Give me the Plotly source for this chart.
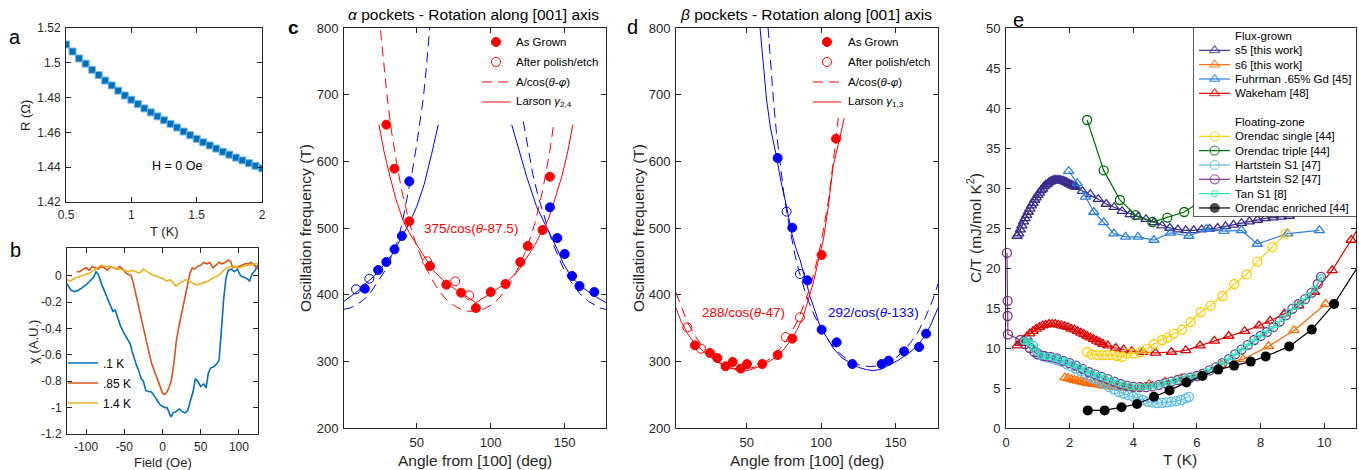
import plotly.graph_objects as go

W, H = 1359, 470
FONT = "Liberation Sans, Arial, Helvetica, sans-serif"
AX = "#262626"
RED, BLUE = "#FF0000", "#0000FF"

# ======================= DATA =======================
# ---- panel a : R(T)
a_T = [0.50, 0.55, 0.60, 0.65, 0.70, 0.75, 0.80, 0.85, 0.90, 0.95, 1.00, 1.05, 1.10, 1.15, 1.20, 1.25,
       1.30, 1.35, 1.40, 1.45, 1.50, 1.55, 1.60, 1.65, 1.70, 1.75, 1.80, 1.85, 1.90, 1.95, 2.00]
a_R = [1.5105, 1.5065, 1.5025, 1.4995, 1.4960, 1.4930, 1.4898, 1.4870, 1.4840, 1.4812, 1.4788, 1.4763,
       1.4738, 1.4715, 1.4692, 1.4670, 1.4649, 1.4628, 1.4605, 1.4584, 1.4563, 1.4543, 1.4525, 1.4507,
       1.4489, 1.4472, 1.4455, 1.4439, 1.4423, 1.4408, 1.4393]
a_note = "H = 0 Oe"
a_xticks = [0.5, 1, 1.5, 2]
a_xtext = ["0.5", "1", "1.5", "2"]
a_yticks = [1.42, 1.44, 1.46, 1.48, 1.50, 1.52]
a_ytext = ["1.42", "1.44", "1.46", "1.48", "1.5", "1.52"]

# ---- panel b : chi(H)
b1_F = [-125, -120, -115, -110, -105, -100, -95, -90, -87, -84, -80, -75, -70, -65, -62, -58, -55, -50, -46,
        -42, -40, -37, -34, -31, -28, -25, -22, -18, -15, -12, -9, -6, -3, 0, 3, 6, 9, 11, 14, 18, 22, 26,
        30, 33, 36, 40, 43, 46, 50, 54, 57, 60, 63, 67, 71, 74, 77, 80, 83, 86, 90, 94, 98, 102, 106, 110,
        114, 117, 121, 125]
b1_X = [-0.06, -0.11, -0.12, -0.11, -0.09, -0.07, -0.04, -0.01, 0.03, 0.01, -0.06, -0.13, -0.20, -0.27,
        -0.26, -0.34, -0.38, -0.44, -0.48, -0.52, -0.57, -0.63, -0.68, -0.72, -0.78, -0.80, -0.87, -0.88,
        -0.88, -0.90, -0.93, -0.96, -0.98, -0.99, -1.00, -1.00, -1.04, -1.07, -1.04, -1.03, -1.01, -1.03,
        -1.04, -1.02, -0.96, -0.88, -0.78, -0.80, -0.84, -0.82, -0.85, -0.74, -0.70, -0.69, -0.67, -0.64,
        -0.42, -0.18, -0.02, 0.04, 0.05, 0.03, 0.05, 0.00, -0.01, -0.02, -0.04, 0.01, 0.04, 0.08]
b2_F = [-112, -108, -104, -100, -96, -92, -88, -84, -80, -76, -72, -68, -64, -60, -56, -52, -48, -44, -41,
        -38, -35, -32, -29, -26, -23, -20, -17, -14, -11, -8, -5, -2, 0, 3, 6, 9, 12, 15, 18, 21, 24, 27,
        30, 33, 36, 39, 42, 46, 50, 54, 58, 62, 66, 70, 74, 78, 82, 86, 89, 92, 96, 100, 104, 108, 112, 116,
        120, 125]
b2_X = [0.03, 0.03, 0.05, 0.06, 0.04, 0.07, 0.06, 0.05, 0.07, 0.06, 0.04, 0.07, 0.06, 0.05, 0.07, 0.05,
        0.02, 0.01, 0.00, -0.06, -0.14, -0.22, -0.28, -0.36, -0.44, -0.52, -0.60, -0.67, -0.72, -0.77,
        -0.82, -0.87, -0.89, -0.90, -0.88, -0.84, -0.78, -0.66, -0.50, -0.40, -0.32, -0.24, -0.16, -0.08,
        0.02, 0.06, 0.05, 0.07, 0.08, 0.10, 0.09, 0.10, 0.06, 0.08, 0.10, 0.09, 0.10, 0.12, 0.11, 0.06,
        0.07, 0.07, 0.08, 0.09, 0.09, 0.10, 0.08, 0.05]
b3_F = [-125, -120, -115, -110, -105, -100, -95, -90, -85, -80, -75, -70, -65, -60, -55, -50, -45, -40,
        -35, -30, -25, -20, -15, -10, -5, 0, 5, 10, 15, 18, 21, 25, 30, 35, 40, 45, 50, 55, 60, 65, 70, 75,
        80, 85, 90, 95, 100, 105, 110, 115, 120, 125]
b3_X = [-0.03, -0.04, -0.02, -0.01, 0.00, 0.01, 0.02, 0.04, 0.06, 0.08, 0.07, 0.07, 0.06, 0.05, 0.05,
        0.04, 0.03, 0.04, 0.03, 0.02, 0.05, 0.03, 0.01, 0.00, -0.01, -0.02, -0.04, -0.03, -0.06, -0.08,
        -0.06, -0.05, -0.03, -0.04, -0.06, -0.07, -0.06, -0.05, -0.04, -0.02, -0.01, 0.01, 0.04, 0.06,
        0.07, 0.07, 0.06, 0.07, 0.08, 0.08, 0.09, 0.09]
b_names = [".1 K", ".85 K", "1.4 K"]
b_xticks = [-100, -50, 0, 50, 100]
b_xtext = ["-100", "-50", "0", "50", "100"]
b_yticks = [-1.2, -1, -0.8, -0.6, -0.4, -0.2, 0]
b_ytext = ["-1.2", "-1", "-0.8", "-0.6", "-0.4", "-0.2", "0"]

# ---- panel c : alpha pockets
c_red_grown_ang = [29.5, 35, 45, 59, 70, 80, 90, 100, 110, 120, 125, 135, 140]
c_red_grown_f = [655, 589, 510, 443, 415, 403, 380, 404, 416, 449, 473, 497, 577]
c_red_etch_ang = [57, 76, 85.5]
c_red_etch_f = [450, 420, 399]
c_blue_grown_ang = [15, 24, 29.5, 35, 40, 45, 140, 145, 150, 155, 160, 170]
c_blue_grown_f = [409, 437, 449, 468, 488, 570, 531, 485, 461, 428, 413, 404]
c_blue_etch_ang = [9, 18]
c_blue_etch_f = [408, 424]
c_red_cos_ang = [24.5, 26, 28, 30, 33, 36, 40, 45, 50, 55, 60, 65, 70, 75, 80, 85, 87.5, 90, 95, 100, 105,
                 110, 115, 120, 125, 130, 135, 140, 142.5]
c_red_cos_f = [820, 786, 738, 698, 645, 603, 555, 508, 473, 446, 424, 406, 393, 384, 378, 375, 375, 375,
               378, 384, 393, 406, 424, 446, 473, 508, 555, 616, 655]
c_red_lar_ang = [24.5, 28, 32, 36, 41, 45, 50, 55, 61, 70, 80, 90, 100, 110, 119, 125, 130, 135, 139, 144,
                 148, 152, 155.5]
c_red_lar_f = [655, 614, 577, 543, 510, 493, 475, 457, 437, 417, 402, 388, 402, 417, 437, 457, 475, 497,
               513, 548, 577, 614, 655]
c_blue_cosL_ang = [0.9, 5, 9.5, 14, 18.5, 23, 28.6, 32, 36.5, 40, 44.6, 47, 50, 52, 54.5, 56.5, 58.8]
c_blue_cosL_f = [378, 380, 385, 392, 402, 417, 436, 452, 477, 505, 555, 585, 625, 655, 695, 740, 800]
c_blue_cosR_ang = [122, 125, 128.5, 132, 135.6, 139, 142, 146, 149, 154, 160, 166, 171, 174, 177.9]
c_blue_cosR_f = [660, 620, 580, 548, 520, 497, 477, 455, 440, 420, 402, 390, 383, 380, 378]
c_blue_larL_ang = [0.9, 5, 10, 14.4, 20, 25, 30, 34, 40, 45, 50, 55, 60, 64.6]
c_blue_larL_f = [390, 397, 405, 415, 425, 437, 450, 462, 487, 507, 532, 565, 610, 655]
c_blue_larR_ang = [114.2, 118, 124.3, 131, 136, 140, 145, 149, 155, 162.6, 170, 177.9]
c_blue_larR_f = [655, 625, 577, 532, 510, 490, 468, 447, 425, 410, 398, 388]
c_note = "375/cos(<i>θ</i>-87.5)"
c_title = "<i>α</i> pockets - Rotation along [001] axis"
c_lar_name = "Larson <i>γ</i><sub>2,4</sub>"

# ---- panel d : beta pockets
d_red_grown_ang = [15.3, 25.4, 30.3, 35.9, 40.6, 46, 50.2, 60.5, 70.8, 80.6, 100.3, 110]
d_red_grown_f = [324, 312.5, 305, 292.5, 299, 289, 296, 296, 309.5, 334, 459.5, 634]
d_red_etch_ang = [10.2, 19.4, 76.2, 85.8]
d_red_etch_f = [351, 319, 336.5, 366]
d_blue_grown_ang = [70.8, 80.6, 90.7, 100.3, 110.4, 120.9, 140.6, 145.3, 155.6, 165.7, 170.4]
d_blue_grown_f = [605, 500.5, 421.5, 347.5, 328.5, 296, 296, 301, 315, 321.5, 341.5]
d_blue_etch_ang = [76.8, 85.8]
d_blue_etch_f = [524.5, 431]
d_red_lar_ang = [2.6, 6, 10.2, 14, 18.7, 24, 29.9, 35, 41, 46, 51, 56, 61, 66, 70, 75, 80, 84, 88, 91, 94.7,
                 98, 101.5, 105, 108, 112, 115.5]
d_red_lar_f = [380, 360, 342.5, 330, 320, 309, 300, 293, 288.5, 286.5, 286.5, 290, 295, 301, 307.5, 318,
               332.5, 348, 367.5, 390, 417.5, 450, 482.5, 535, 592.5, 630, 665]
d_red_cos_ang = [2.6, 6, 10, 15, 20, 25, 30, 35, 40, 47, 55, 60, 65, 70, 75, 80, 85, 90, 95, 100, 105, 110,
                 111.5]
d_red_cos_f = [403, 382, 360, 340, 323, 311, 301, 294, 290, 288, 291, 296, 303, 313, 326, 343, 365, 394,
               430, 478, 543, 634, 665]
d_blue_lar_ang = [59, 61, 63.4, 66, 70, 73, 76.8, 80.2, 83, 85.8, 89, 92.5, 96, 99.2, 104, 108, 114, 119.4,
                  125, 130.5, 135, 140, 146.2, 152, 157.4, 163, 168.6, 173, 178.4]
d_blue_lar_f = [800, 745, 692, 650, 607.5, 570, 532, 492.5, 470, 452.5, 425, 397.5, 375, 352.5, 335, 320,
                305, 297.5, 291, 287.5, 286, 288, 295, 302, 310, 320, 335, 352, 380]
d_blue_cos_ang = [64.4, 66, 68, 70, 72.5, 75, 77.5, 80, 82.5, 85, 90, 95, 100, 105, 110, 115, 120, 126, 133,
                  140, 145, 150, 155, 160, 165, 170, 175, 178.4]
d_blue_cos_f = [800, 747, 691, 643, 593, 551, 516, 485, 459, 436, 399, 371, 348, 331, 317, 307, 300, 294,
                292, 294, 299, 305, 315, 328, 344, 366, 393, 416]
d_note_red = "288/cos(<i>θ</i>-47)"
d_note_blue = "292/cos(<i>θ</i>-133)"
d_title = "<i>β</i> pockets - Rotation along [001] axis"
d_lar_name = "Larson <i>γ</i><sub>1,3</sub>"

cd_legend_names = ["As Grown", "After polish/etch", "A/cos(<i>θ</i>-<i>φ</i>)"]
cd_xticks = [50, 100, 150]
cd_yticks = [200, 300, 400, 500, 600, 700, 800]

# ---- panel e : C/T vs T
s5_T = [0.35, 0.40, 0.45, 0.50, 0.55, 0.60, 0.65, 0.70, 0.75, 0.80, 0.85, 0.90, 0.95, 1.00, 1.05, 1.10,
        1.15, 1.20, 1.25, 1.30, 1.35, 1.40, 1.45, 1.50, 1.55, 1.60, 1.65, 1.70, 1.75, 1.80, 1.85, 1.90,
        1.95, 2.00, 2.05, 2.10, 2.15, 2.20, 2.40, 2.65, 2.90, 3.15, 3.40, 3.65, 3.90, 4.15, 4.40, 4.65,
        4.90, 5.15, 5.40, 5.65, 5.90, 6.15, 6.40, 6.65, 6.90, 7.15, 7.40, 7.65, 7.90, 8.15, 8.40, 8.65, 8.90]
s5_C = [24.0, 24.3, 24.8, 25.3, 25.8, 26.2, 26.6, 27.0, 27.4, 27.8, 28.1, 28.5, 28.8, 29.1, 29.4, 29.7,
        29.9, 30.2, 30.4, 30.5, 30.7, 30.8, 30.9, 31.0, 31.0, 31.0, 31.0, 31.0, 30.9, 30.9, 30.8, 30.7,
        30.6, 30.5, 30.4, 30.3, 30.2, 30.1, 29.6, 29.2, 28.6, 28.0, 27.6, 27.1, 26.7, 26.4, 26.1, 25.7,
        25.3, 25.0, 24.8, 24.7, 24.7, 24.8, 24.9, 25.0, 25.2, 25.4, 25.6, 25.8, 26.0, 26.2, 26.3, 26.4, 26.5]
s6_T = [1.85, 1.95, 2.05, 2.15, 2.25, 2.35, 2.45, 2.55, 2.65, 2.75, 2.85, 2.95, 3.05, 3.15, 3.25, 3.35,
        3.45, 3.55, 3.65, 3.75, 3.85, 3.95, 4.10, 4.25, 4.50, 5.00, 5.50, 6.10, 6.75, 7.45, 8.25, 9.05, 10.05]
s6_C = [6.3, 6.2, 6.1, 6.0, 5.9, 5.8, 5.7, 5.6, 5.55, 5.5, 5.45, 5.4, 5.3, 5.25, 5.2, 5.15, 5.1, 5.1,
        5.05, 5.0, 5.0, 5.0, 5.0, 5.1, 5.5, 5.8, 6.2, 6.7, 7.9, 8.6, 10.2, 12.2, 15.5]
fu_T = [1.97, 2.24, 2.50, 2.76, 3.07, 3.39, 3.76, 4.15, 4.65, 5.17, 5.75, 6.30, 6.85, 7.40, 7.90, 8.85, 9.85]
fu_C = [32.1, 30.6, 28.9, 27.0, 25.7, 24.3, 23.9, 23.9, 23.5, 24.4, 24.0, 24.9, 24.6, 24.7, 23.0, 24.3, 24.7]
wk_T = [0.35, 0.45, 0.55, 0.65, 0.75, 0.85, 0.95, 1.05, 1.15, 1.25, 1.35, 1.45, 1.55, 1.65, 1.75, 1.85,
        1.95, 2.05, 2.15, 2.25, 2.35, 2.45, 2.55, 2.65, 2.75, 2.85, 2.95, 3.05, 3.20, 3.45, 3.70, 3.95,
        4.30, 4.70, 5.20, 5.65, 6.10, 6.55, 7.00, 7.50, 7.95, 8.30, 8.75, 9.20, 9.70, 10.25, 10.85, 11.50]
wk_C = [10.3, 10.6, 11.0, 11.4, 11.8, 12.1, 12.4, 12.6, 12.8, 12.9, 13.0, 13.0, 13.0, 12.9, 12.8, 12.7,
        12.6, 12.4, 12.3, 12.1, 11.9, 11.7, 11.5, 11.3, 11.1, 10.9, 10.7, 10.5, 10.3, 10.0, 9.8, 9.6,
        9.5, 9.4, 9.5, 9.7, 10.3, 10.9, 11.5, 12.1, 12.8, 13.4, 14.3, 15.3, 17.0, 19.7, 23.5, 28.0]
os_T = [2.55, 2.70, 2.86, 3.02, 3.18, 3.34, 3.49, 3.65, 3.81, 4.02, 4.23, 4.44, 4.65, 4.91, 5.07, 5.28,
        5.54, 5.80, 6.12, 6.43, 6.80, 7.17, 7.56, 7.90, 8.37, 8.79]
os_C = [9.5, 9.2, 9.1, 9.1, 9.1, 9.1, 9.0, 8.9, 9.3, 9.3, 9.5, 9.9, 10.5, 11.0, 11.3, 11.8, 12.3, 13.25,
        14.5, 15.3, 16.5, 18.0, 19.2, 20.8, 22.6, 24.3]
ot_T = [2.55, 3.07, 3.58, 4.07, 4.60, 5.07, 5.60, 6.12]
ot_C = [38.5, 32.2, 28.5, 26.6, 25.75, 26.3, 27.0, 28.3]
hs1_T = [0.70, 0.85, 1.00, 1.15, 1.30, 1.45, 1.60, 1.75, 1.90, 2.05, 2.20, 2.35, 2.50, 2.65, 2.80, 2.95,
         3.10, 3.25, 3.40, 3.55, 3.70, 3.85, 4.00, 4.15, 4.30, 4.45, 4.60, 4.75, 4.90, 5.05, 5.20, 5.35,
         5.50, 5.65, 5.75]
hs1_C = [10.9, 10.3, 9.4, 9.0, 8.8, 8.7, 8.5, 8.3, 8.0, 7.7, 7.4, 7.1, 6.8, 6.4, 6.1, 5.8, 5.5, 5.1, 4.8,
         4.5, 4.3, 4.1, 3.9, 3.7, 3.5, 3.3, 3.2, 3.1, 3.15, 3.2, 3.3, 3.35, 3.5, 3.7, 3.9]
hs2_T = [0.03, 0.05, 0.05, 0.06, 0.45, 0.60, 0.75, 0.90, 1.0, 1.2, 1.4, 1.6, 1.8, 2.0, 2.2, 2.4, 2.6, 2.8,
         3.0, 3.2, 3.4, 3.6, 3.8, 4.0, 4.2, 4.4, 4.6, 4.8, 5.0, 5.2, 5.4, 5.6, 5.8, 6.0, 6.2, 6.4, 6.6,
         6.8, 7.0, 7.2, 7.4, 7.6, 7.8, 8.0, 8.2, 8.4, 8.6, 8.8, 9.0, 9.2, 9.4, 9.6, 9.8, 9.9]
hs2_C = [21.9, 15.9, 14.0, 11.7, 11.0, 10.5, 10.0, 9.5, 9.2, 9.0, 8.9, 8.7, 8.4, 8.1, 7.8, 7.4, 7.0, 6.7,
         6.4, 6.1, 5.8, 5.5, 5.3, 5.15, 5.1, 5.1, 5.2, 5.4, 5.6, 5.8, 6.0, 6.2, 6.3, 6.5, 6.8, 7.2, 7.6,
         8.1, 8.6, 9.2, 9.8, 10.4, 11.0, 11.5, 12.0, 12.6, 13.3, 14.1, 14.9, 15.5, 16.1, 16.9, 18.0, 18.9]
tan_T = [0.55, 0.65, 0.75, 0.85, 0.95, 1.1, 1.3, 1.5, 1.7, 1.9, 2.1, 2.3, 2.5, 2.7, 2.9, 3.1, 3.3, 3.5,
         3.7, 3.9, 4.1, 4.3, 4.5, 4.7, 4.9, 5.1, 5.3, 5.5, 5.7, 5.9, 6.1, 6.3, 6.5, 6.7, 6.9, 7.1, 7.3,
         7.5, 7.7, 7.9, 8.1, 8.3, 8.5, 8.7, 8.9, 9.1, 9.3, 9.5, 9.7, 9.9]
tan_C = [10.9, 10.8, 10.6, 10.1, 9.5, 9.05, 8.95, 8.8, 8.55, 8.25, 7.95, 7.6, 7.2, 6.85, 6.55, 6.25, 5.95,
         5.65, 5.4, 5.2, 5.1, 5.1, 5.15, 5.3, 5.5, 5.7, 5.9, 6.1, 6.25, 6.4, 6.65, 7.0, 7.4, 7.85, 8.35,
         8.9, 9.5, 10.1, 10.7, 11.25, 11.75, 12.3, 12.95, 13.7, 14.5, 15.2, 15.8, 16.5, 17.4, 18.8]
oe_T = [2.57, 3.10, 3.63, 4.12, 4.65, 5.14, 5.67, 6.17, 6.67, 7.17, 7.69, 8.16, 8.90, 9.61, 10.31, 11.50]
oe_C = [2.2, 2.2, 2.6, 3.0, 3.9, 4.7, 5.7, 6.5, 7.3, 7.8, 8.3, 8.95, 10.2, 12.3, 15.5, 22.9]
e_xticks = [0, 2, 4, 6, 8, 10]
e_yticks = [0, 5, 10, 15, 20, 25, 30, 35, 40, 45, 50]
e_group_titles = ["Flux-grown", "Floating-zone"]

# series styles for panel e (name, T, C, colour, symbol, size, group)
e_series = [
    ("s5 [this work]", s5_T, s5_C, "#3A2C8F", "triangle-up-open", 9, 0),
    ("s6 [this work]", s6_T, s6_C, "#FF6A00", "triangle-up-open", 9, 0),
    ("Fuhrman .65% Gd [45]", fu_T, fu_C, "#2A80E0", "triangle-up-open", 9, 0),
    ("Wakeham [48]", wk_T, wk_C, "#E00000", "triangle-up-open", 9, 0),
    ("Orendac single [44]", os_T, os_C, "#FFCC00", "circle-open", 9, 1),
    ("Orendac triple [44]", ot_T, ot_C, "#006E00", "circle-open", 9, 1),
    ("Hartstein S1 [47]", hs1_T, hs1_C, "#55BDEE", "circle-open", 9, 1),
    ("Hartstein S2 [47]", hs2_T, hs2_C, "#7E2F8E", "circle-open", 9, 1),
    ("Tan S1 [8]", tan_T, tan_C, "#2EE6BE", "circle-open", 6, 1),
    ("Orendac enriched [44]", oe_T, oe_C, "#000000", "circle", 10, 1),
]

# ======================= GEOMETRY =======================
def dx(l, r):
    return [l / W, r / W]


def dy(t, b):
    return [1 - b / H, 1 - t / H]


def px(x):
    return x / W


def py(y):
    return 1 - y / H


fig = go.Figure()
annotations = []
DASH = "10px,6px"


def add(tr, ax):
    tr.update(xaxis="x" + ax, yaxis="y" + ax)
    fig.add_trace(tr)


# ---- panel a
add(go.Scatter(x=a_T, y=a_R, mode="lines+markers", showlegend=False,
               line=dict(color="#0072BD", width=1.5),
               marker=dict(symbol="square", size=7, color="#0072BD",
                           line=dict(color="#7DB8E8", width=1))), "")

# ---- panel b
b_cols = ["#0072BD", "#D95319", "#EDB120"]
for i, (F, X) in enumerate([(b1_F, b1_X), (b2_F, b2_X), (b3_F, b3_X)]):
    add(go.Scatter(x=F, y=X, mode="lines", name=b_names[i], legend="legend2",
                   legendgroup="b%d" % i, line=dict(color=b_cols[i], width=1.6)), "2")


# ---- panels c and d
def pocket_panel(ax, red_cos, red_lar, blue_cos, blue_lar, rg, re, bg, be):
    for (xs, ys), col, dash in [(blue_cos, BLUE, DASH), (blue_lar, BLUE, None),
                                (red_cos, RED, DASH), (red_lar, RED, None)]:
        add(go.Scatter(x=xs, y=ys, mode="lines", showlegend=False,
                       line=dict(color=col, width=1, dash=dash)), ax)
    for (xs, ys), col, sym in [(rg, RED, "circle"), (re, RED, "circle-open"),
                               (bg, BLUE, "circle"), (be, BLUE, "circle-open")]:
        add(go.Scatter(x=xs, y=ys, mode="markers", showlegend=False,
                       marker=dict(symbol=sym, size=9, color=col, line=dict(width=1, color=col))), ax)


pocket_panel("3",
             (c_red_cos_ang, c_red_cos_f), (c_red_lar_ang, c_red_lar_f),
             (c_blue_cosL_ang + [None] + c_blue_cosR_ang, c_blue_cosL_f + [None] + c_blue_cosR_f),
             (c_blue_larL_ang + [None] + c_blue_larR_ang, c_blue_larL_f + [None] + c_blue_larR_f),
             (c_red_grown_ang, c_red_grown_f), (c_red_etch_ang, c_red_etch_f),
             (c_blue_grown_ang, c_blue_grown_f), (c_blue_etch_ang, c_blue_etch_f))
pocket_panel("4",
             (d_red_cos_ang, d_red_cos_f), (d_red_lar_ang, d_red_lar_f),
             (d_blue_cos_ang, d_blue_cos_f), (d_blue_lar_ang, d_blue_lar_f),
             (d_red_grown_ang, d_red_grown_f), (d_red_etch_ang, d_red_etch_f),
             (d_blue_grown_ang, d_blue_grown_f), (d_blue_etch_ang, d_blue_etch_f))

# ---- panel e
for name, T, C, col, sym, sz, grp in e_series:
    filled = not sym.endswith("open")
    add(go.Scatter(x=T, y=C, mode="lines+markers", showlegend=False, cliponaxis=False,
                   line=dict(color=col, width=1.2),
                   marker=dict(symbol=sym, size=sz, color=col,
                               line=dict(color=col, width=1.3 if not filled else 0))), "5")


# ---- legends of c and d (small pixel-coordinate axes, no frame)
def pocket_legend(ax, line_l, line_r, text_x, rows_y, lar_name):
    names = cd_legend_names + [lar_name]
    mid = (line_l + line_r) / 2
    for k, yrow in enumerate(rows_y):
        if k < 2:
            sym = "circle" if k == 0 else "circle-open"
            add(go.Scatter(x=[mid], y=[yrow], mode="markers", showlegend=False, cliponaxis=False,
                           marker=dict(symbol=sym, size=9, color=RED, line=dict(width=1, color=RED))), ax)
        else:
            add(go.Scatter(x=[line_l, line_r], y=[yrow, yrow], mode="lines", showlegend=False,
                           cliponaxis=False,
                           line=dict(color=RED, width=1, dash=DASH if k == 2 else None)), ax)
        annotations.append(dict(text=names[k], x=text_x, y=yrow, xref="x" + ax, yref="y" + ax,
                                xanchor="left", yanchor="middle", showarrow=False,
                                font=dict(family=FONT, size=11.5, color="#000000")))


C_LEG = (478, 600, 34, 112)
D_LEG = (810, 933, 34, 112)
pocket_legend("7", 482, 510, 514, [42, 62, 82, 102], c_lar_name)
pocket_legend("8", 813, 841, 846, [42, 62, 82, 102], d_lar_name)

# ---- panel e legend (drawn on its own small axes)
LEG_L, LEG_R, LEG_T, LEG_B = 1194, 1356, 28, 216
add(go.Scatter(x=[0, 1, 1, 0, 0], y=[0, 0, 1, 1, 0], mode="lines", fill="toself",
               fillcolor="white", line=dict(width=0), showlegend=False, hoverinfo="skip"), "6")
ROW0, ROWH = 36.0, 14.33


def lx(p):
    return (p - LEG_L) / (LEG_R - LEG_L)


def ly(p):
    return (LEG_B - p) / (LEG_B - LEG_T)


rows = [("title", 0)] + [("s", i) for i in range(4)] + [("blank", None), ("title", 1)] + \
       [("s", i) for i in range(4, 10)]
for r, (kind, idx) in enumerate(rows):
    yp = ROW0 + r * ROWH
    if kind == "title":
        annotations.append(dict(text=e_group_titles[idx], x=lx(1232.7), y=ly(yp), xref="x6", yref="y6",
                                xanchor="left", yanchor="middle", showarrow=False,
                                font=dict(family=FONT, size=11.5, color="#000000")))
    elif kind == "s":
        name, T, C, col, sym, sz, grp = e_series[idx]
        filled = not sym.endswith("open")
        add(go.Scatter(x=[lx(1199), lx(1214.7), lx(1230)], y=[ly(yp)] * 3, mode="lines+markers",
                       showlegend=False, hoverinfo="skip", cliponaxis=False,
                       line=dict(color=col, width=1.2),
                       marker=dict(symbol=sym, size=[0, sz, 0], color=col,
                                   line=dict(color=col, width=1.3 if not filled else 0))), "6")
        annotations.append(dict(text=name, x=lx(1232.7), y=ly(yp), xref="x6", yref="y6",
                                xanchor="left", yanchor="middle", showarrow=False,
                                font=dict(family=FONT, size=11.5, color="#000000")))


# ======================= LAYOUT =======================
def axis(domain, rng, tv, tt, anchor, size):
    return dict(domain=domain, range=rng, anchor=anchor, tickmode="array", tickvals=tv, ticktext=tt,
                showline=True, linecolor=AX, linewidth=1, mirror="ticks", ticks="inside", ticklen=5,
                tickwidth=1, tickcolor=AX, showgrid=False, zeroline=False, fixedrange=True,
                ticklabelstandoff=2, tickfont=dict(family=FONT, size=size, color=AX))


def hidden_axis(domain, rng, anchor):
    return dict(domain=domain, range=rng, anchor=anchor, visible=False, fixedrange=True)


cdy = dy(28, 428)
layout = dict(
    width=W, height=H, margin=dict(l=0, r=0, t=0, b=0, pad=0, autoexpand=False),
    paper_bgcolor="white", plot_bgcolor="rgba(0,0,0,0)", hovermode=False,
    showlegend=True, font=dict(family=FONT, color=AX),
    xaxis=axis(dx(66, 262), [0.5, 2.0], a_xticks, a_xtext, "y", 12),
    yaxis=axis(dy(28, 202), [1.42, 1.52], a_yticks, a_ytext, "x", 12),
    xaxis2=axis(dx(67, 258), [-125, 125], b_xticks, b_xtext, "y2", 12),
    yaxis2=axis(dy(248, 434), [-1.2, 0.21], b_yticks, b_ytext, "x2", 12),
    xaxis3=axis(dx(344, 606), [0.9, 177.9], cd_xticks, [str(v) for v in cd_xticks], "y3", 13),
    yaxis3=axis(cdy, [200, 800], cd_yticks, [str(v) for v in cd_yticks], "x3", 13),
    xaxis4=axis(dx(676, 938), [2.6, 178.4], cd_xticks, [str(v) for v in cd_xticks], "y4", 13),
    yaxis4=axis(cdy, [200, 800], cd_yticks, [str(v) for v in cd_yticks], "x4", 13),
    xaxis5=axis(dx(1006, 1356), [0, 11], e_xticks, [str(v) for v in e_xticks], "y5", 13),
    yaxis5=axis(cdy, [0, 50], e_yticks, [str(v) for v in e_yticks], "x5", 13),
    xaxis6=dict(domain=dx(LEG_L, LEG_R), range=[0, 1], anchor="y6", showline=True, mirror=True,
                linecolor="#333333", linewidth=0.8, showticklabels=False, ticks="", showgrid=False,
                zeroline=False, fixedrange=True),
    yaxis6=dict(domain=dy(LEG_T, LEG_B), range=[0, 1], anchor="x6", showline=True, mirror=True,
                linecolor="#333333", linewidth=0.8, showticklabels=False, ticks="", showgrid=False,
                zeroline=False, fixedrange=True),
    xaxis7=hidden_axis(dx(C_LEG[0], C_LEG[1]), [C_LEG[0], C_LEG[1]], "y7"),
    yaxis7=hidden_axis(dy(C_LEG[2], C_LEG[3]), [C_LEG[3], C_LEG[2]], "x7"),
    xaxis8=hidden_axis(dx(D_LEG[0], D_LEG[1]), [D_LEG[0], D_LEG[1]], "y8"),
    yaxis8=hidden_axis(dy(D_LEG[2], D_LEG[3]), [D_LEG[3], D_LEG[2]], "x8"),
    legend=dict(visible=False),
    legend2=dict(x=px(63), y=py(348.5), xanchor="left", yanchor="top", bgcolor="rgba(0,0,0,0)",
                 borderwidth=0, tracegroupgap=1, font=dict(family=FONT, size=12, color="#000000")),
)


def pann(text, x, y, size, angle=0, color=AX, bold=False, xanchor="center"):
    if bold:
        text = "<b>" + text + "</b>"
    return dict(text=text, x=px(x), y=py(y), xref="paper", yref="paper", showarrow=False,
                textangle=angle, xanchor=xanchor, yanchor="middle",
                font=dict(family=FONT, size=size, color=color))


annotations += [
    # panel letters
    pann("a", 15, 37, 20, color="#000000"),
    pann("b", 15, 250, 20, color="#000000"),
    pann("c", 293, 28, 19, color="#000000", bold=True),
    pann("d", 632, 27, 20, color="#000000"),
    pann("e", 1018, 20, 20, color="#000000"),
    # panel a
    pann("R (Ω)", 25, 116, 13, angle=-90),
    pann("T (K)", 164, 231, 13),
    # panel b
    pann("χ (A.U.)", 33, 342, 13, angle=-90),
    pann("Field (Oe)", 163, 462, 13),
    # panel c / d
    pann(c_title, 473, 15, 15.5, color="#000000"),
    pann(d_title, 806, 15, 15.5, color="#000000"),
    pann("Oscillation frequency (T)", 305, 228, 15.5, angle=-90),
    pann("Oscillation frequency (T)", 638, 228, 15.5, angle=-90),
    pann("Angle from [100] (deg)", 475, 460, 15.5),
    pann("Angle from [100] (deg)", 807, 460, 15.5),
    # panel e
    pann("C/T (mJ/mol K<sup>2</sup>)", 974, 228, 15.5, angle=-90),
    pann("T (K)", 1180, 459, 15.5),
    # data-anchored notes
    dict(text=a_note, x=1.35, y=1.4405, xref="x", yref="y", showarrow=False,
         font=dict(family=FONT, size=12.5, color="#000000")),
    dict(text=c_note, x=87, y=499, xref="x3", yref="y3", showarrow=False,
         font=dict(family=FONT, size=13.5, color=RED)),
    dict(text=d_note_red, x=47.8, y=374, xref="x4", yref="y4", showarrow=False,
         font=dict(family=FONT, size=13.5, color=RED)),
    dict(text=d_note_blue, x=135, y=374, xref="x4", yref="y4", showarrow=False,
         font=dict(family=FONT, size=13.5, color=BLUE)),
]
layout["annotations"] = annotations
fig.update_layout(**layout)

page_fix = ("document.documentElement.style.margin='0';document.body.style.margin='0';"
            "document.body.style.padding='0';document.documentElement.style.overflow='hidden';"
            "document.body.style.overflow='hidden';")
fig.write_html("out.html", post_script=page_fix,
               config={"displayModeBar": False, "staticPlot": True})
